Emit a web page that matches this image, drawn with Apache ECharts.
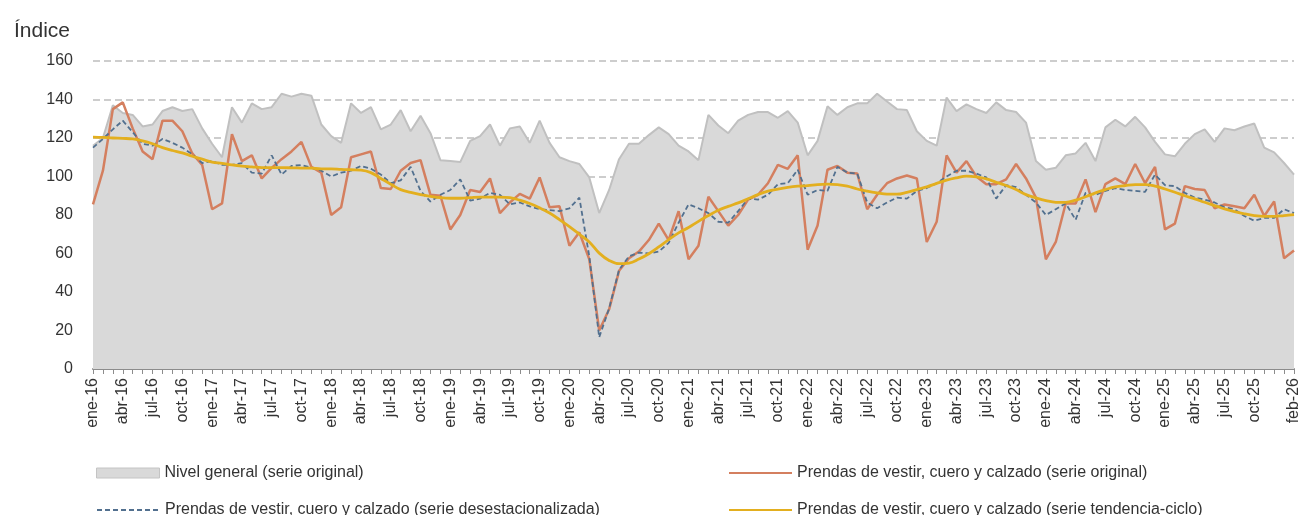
<!DOCTYPE html>
<html>
<head>
<meta charset="utf-8">
<script src="https://cdn.jsdelivr.net/npm/echarts@6/dist/echarts.min.js"></script>
<style>
  html, body { margin: 0; padding: 0; background: #fff; }
  #chart { width: 1302px; height: 515px; }
</style>
</head>
<body>
<div id="chart"></div>
<script>
// meses ene-16 .. feb-26
var meses = [
  'ene-16','feb-16','mar-16','abr-16','may-16','jun-16','jul-16','ago-16','sep-16','oct-16','nov-16','dic-16',
  'ene-17','feb-17','mar-17','abr-17','may-17','jun-17','jul-17','ago-17','sep-17','oct-17','nov-17','dic-17',
  'ene-18','feb-18','mar-18','abr-18','may-18','jun-18','jul-18','ago-18','sep-18','oct-18','nov-18','dic-18',
  'ene-19','feb-19','mar-19','abr-19','may-19','jun-19','jul-19','ago-19','sep-19','oct-19','nov-19','dic-19',
  'ene-20','feb-20','mar-20','abr-20','may-20','jun-20','jul-20','ago-20','sep-20','oct-20','nov-20','dic-20',
  'ene-21','feb-21','mar-21','abr-21','may-21','jun-21','jul-21','ago-21','sep-21','oct-21','nov-21','dic-21',
  'ene-22','feb-22','mar-22','abr-22','may-22','jun-22','jul-22','ago-22','sep-22','oct-22','nov-22','dic-22',
  'ene-23','feb-23','mar-23','abr-23','may-23','jun-23','jul-23','ago-23','sep-23','oct-23','nov-23','dic-23',
  'ene-24','feb-24','mar-24','abr-24','may-24','jun-24','jul-24','ago-24','sep-24','oct-24','nov-24','dic-24',
  'ene-25','feb-25','mar-25','abr-25','may-25','jun-25','jul-25','ago-25','sep-25','oct-25','nov-25','dic-25',
  'ene-26','feb-26'
];

var nivelGeneral = [
  116,120,137,133,132,126,127,134,136,134,135,125,
  117,110,136,128,138,135,136,143,141.5,143,142,127,
  121,117.5,138,133,136,124.5,127,134.5,123.5,131.5,122.5,108.5,
  108,107.5,118.5,121,127,116,125,126,117.5,129,117.5,110,
  108,106.5,99.5,81,93,109,117,117,121.5,125.5,122,116,
  113,108.5,132,126.5,122.5,129,132,133.5,133.5,130.5,134,128,
  111,118.5,136.5,132,136,138,138,143,139,135,134.5,123.5,
  118.5,116,141,134,137.5,135,133,138.5,134.5,133.5,128,108,
  103.5,104.5,111,112,117.5,108,125.5,129.5,126,131,125.5,118,
  111.5,110.5,117,122,124.5,118,125,124,126,127.5,115,112.5,
  107,101
];

var prendasOriginal = [
  85.5,103,135,138.5,125,113,109,129,129,123.5,112,106,
  83,86,122,108,111,99,104.5,109,113,118,105,102,
  80,84,110,111.5,113,94,93.5,103,107,108.5,90.5,90,
  72.5,80,93,92,99,81,86.5,91,88.5,99.5,84,84.5,
  64,71,57,20,31,51,57.5,61,67,75.5,67,82,
  57,64,89.5,82,74.5,80,88,90.5,96.5,106,104,111,
  62,74.5,103.5,105.5,102,101.5,83,90.5,96.5,99,100.5,99,
  66,76.5,111,102,108,100,96,96,98.5,106.5,99,89,
  57,66,86,86,98.5,81.5,96,99,96,106.5,96.5,105,
  72.5,75.5,95,93.5,93,83.5,85.5,84.5,83.5,90.5,79.5,87,
  57.5,61.5
];

var prendasDesest = [
  115,119.5,124.5,129,123,117,116,119.5,117.5,115,111.5,107,
  108,106,106,107,102,101.5,111,101,105.5,106,104.5,103,
  100,102,103,105.5,104,101,96.5,98,105,92.5,87,90.5,
  93,98.5,87.5,88.5,91.5,90.5,85.5,86.5,84.5,83,82.5,82,
  83.5,89,58.5,16.5,31.5,51.5,58.5,60.5,60,61,65.5,76,
  85.5,83.5,81,76.5,76,82,88.5,88,90.5,96,96.5,103.5,
  90.5,93,92.5,105,102,101.5,86.5,83.5,86.5,89,88.5,92.5,
  94,96.5,100,103,103,101.5,99.5,88.5,95.5,94.5,90.5,86.5,
  80,83,86,77.5,91.5,90.5,92.5,94,93,92.5,92,101,
  95.5,95,91.5,89,88,86.5,84,83,79.5,77,78.5,78.5,
  83,81
];

var prendasTendencia = [
  120.5,120.3,120,119.8,119.5,118.5,117,115,113.5,112.3,110.5,109,
  107.5,106.8,106,105.4,105,104.6,104.6,104.6,104.5,104.4,104.3,104,
  104,103.7,103.5,103.3,102,99,96,93.2,91.8,90.6,89.7,89,
  88.7,88.7,89,89.3,89.3,89.3,89,87.7,86,83.7,81,77.6,
  74,70,66,60.2,56.4,54.7,55,57.1,59.9,63.4,67.2,70.7,
  73.5,76.7,79.7,82.5,84.5,86.3,88.4,90.6,92.4,93.5,94.4,95,
  95.3,95.8,96,95.8,95,93.5,92.4,91.5,90.8,90.8,91.8,93.2,
  94.6,96.4,98.1,99.3,100.2,99.8,98.8,97,95.3,93.2,90.6,88.9,
  87.5,86.6,86.6,87.7,89.5,91.5,93.2,94.6,95.3,95.8,95.8,95,
  93.5,91.8,90,88.4,86.6,84.9,83.2,81.8,80.6,79.7,79.3,79.3,
  79.7,80.2
];

var nombres = [
  'Nivel general (serie original)',
  'Prendas de vestir, cuero y calzado (serie original)',
  'Prendas de vestir, cuero y calzado (serie desestacionalizada)',
  'Prendas de vestir, cuero y calzado (serie tendencia-ciclo)'
];

var fuente = '"Liberation Sans", Arial, sans-serif';
var chart = echarts.init(document.getElementById('chart'));

// una leyenda por elemento, para colocarlas en 2 columnas
function leyenda(item, left, top, ancho) {
  return {
    left: left, top: top, padding: 0,
    itemWidth: ancho, itemHeight: 10, itemGap: 0,
    textStyle: { fontFamily: fuente, fontSize: 16, color: '#333' },
    data: [item]
  };
}
var sinPunto = { opacity: 0 };

var option = {
  animation: false,
  textStyle: { fontFamily: fuente, color: '#333' },
  title: {
    text: 'Índice',
    left: 9, top: 16,
    textStyle: { fontFamily: fuente, fontSize: 21, fontWeight: 'normal', color: '#333' }
  },
  legend: [
    leyenda({ name: nombres[0], icon: 'rect', itemStyle: { color: '#d9d9d9', borderColor: '#c4c4c4', borderWidth: 1 } }, 96, 465, 63),
    leyenda({ name: nombres[2], itemStyle: sinPunto }, 96, 502, 63),
    leyenda({ name: nombres[1], itemStyle: sinPunto }, 728, 465, 63),
    leyenda({ name: nombres[3], itemStyle: sinPunto }, 728, 502, 63)
  ],
  grid: { left: 93, right: 6, top: 61, bottom: 146 },
  xAxis: {
    type: 'category',
    boundaryGap: false,
    data: meses,
    axisLine: { lineStyle: { color: '#8c8c8c', width: 2 } },
    axisTick: { show: true, interval: 0, length: 5, lineStyle: { color: '#8c8c8c' } },
    axisLabel: {
      rotate: 90, fontSize: 16, color: '#333', margin: 9,
      interval: function (i) { return (i % 3 === 0 && i < 120) || i === meses.length - 1; }
    },
    splitLine: { show: false }
  },
  yAxis: {
    type: 'value',
    min: 0, max: 160, interval: 20,
    axisLine: { show: false },
    axisTick: { show: false },
    axisLabel: { fontSize: 16, color: '#333', margin: 20 },
    splitLine: { lineStyle: { color: '#bdbdbd', width: 1.5, type: [7, 4] } }
  },
  series: [
    {
      name: nombres[0], type: 'line', data: nivelGeneral,
      symbol: 'none', z: 1,
      lineStyle: { color: '#c0c0c0', width: 2 },
      itemStyle: { color: '#d9d9d9' },
      areaStyle: { color: '#d9d9d9', opacity: 1 }
    },
    {
      name: nombres[1], type: 'line', data: prendasOriginal,
      symbol: 'none', z: 2,
      lineStyle: { color: '#d47f5f', width: 2.5 },
      itemStyle: { color: '#d47f5f' }
    },
    {
      name: nombres[2], type: 'line', data: prendasDesest,
      symbol: 'none', z: 3,
      lineStyle: { color: '#52708f', width: 1.8, type: [5, 3] },
      itemStyle: { color: '#52708f' }
    },
    {
      name: nombres[3], type: 'line', data: prendasTendencia,
      symbol: 'none', smooth: 0.4, z: 4,
      lineStyle: { color: '#e3af1f', width: 2.8 },
      itemStyle: { color: '#e3af1f' }
    }
  ]
};

chart.setOption(option);
</script>
</body>
</html>
